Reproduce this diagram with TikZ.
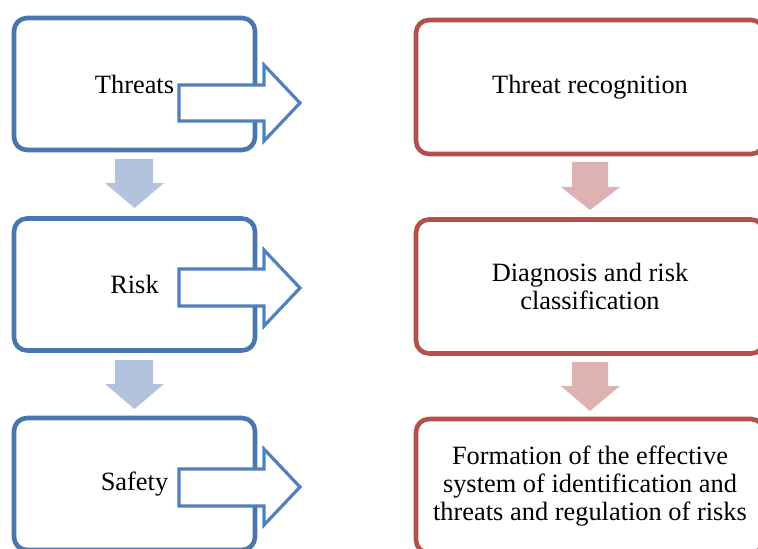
\documentclass[tikz,border=0pt]{standalone}
\usepackage{fontspec}
\setmainfont{Liberation Serif}
\definecolor{boxblue}{RGB}{74,118,176}
\definecolor{arrblue}{RGB}{79,129,189}
\definecolor{downblue}{RGB}{179,195,222}
\definecolor{boxred}{RGB}{178,80,77}
\definecolor{downred}{RGB}{222,178,178}
\tikzset{
  txt/.style={font=\fontsize{13.2}{13.8}\selectfont},
  lbox/.style={draw=boxblue,line width=2.3pt,rounded corners=6.5pt,fill=white,minimum width=120.5pt,minimum height=66pt,txt},
  rbox/.style={draw=boxred,line width=2.3pt,rounded corners=6.5pt,fill=white,minimum width=174pt,minimum height=67pt,align=center,txt},
  hollow/.style={draw=arrblue,line width=1.6pt,fill=white,line join=miter},
  downl/.style={fill=downblue},
  downr/.style={fill=downred},
}
\begin{document}
\begin{tikzpicture}[x=0.5pt,y=-0.5pt]
  \useasboundingbox (0,0) rectangle (758,549);
  \clip (0,0) rectangle (758,549);
  % left column
  \node[lbox] (thr) at (134.5,84) {Threats};
  \node[lbox] (rsk) at (134.5,284.5) {Risk};
  \node[lbox] (saf) at (134.5,484) {Safety};
  \draw[hollow] (179,85) -- (264,85) -- (264,65) -- (300,103) -- (264,141) -- (264,121) -- (179,121) -- cycle;
  \draw[hollow] (179,269) -- (264,269) -- (264,250) -- (300,288) -- (264,326) -- (264,306) -- (179,306) -- cycle;
  \draw[hollow] (179,469) -- (264,469) -- (264,449) -- (300,487) -- (264,525) -- (264,506) -- (179,506) -- cycle;
  \fill[downl] (115,159) -- (153,159) -- (153,183) -- (164,183) -- (134.5,208) -- (105,183) -- (115,183) -- cycle;
  \fill[downl] (115,360) -- (153,360) -- (153,384) -- (164,384) -- (134.5,409) -- (105,384) -- (115,384) -- cycle;
  % right column
  \node[rbox] (rec) at (590,87) {Threat recognition};
  \node[rbox] (dia) at (590,286.5) {Diagnosis and risk\\classification};
  \node[rbox] (frm) at (590,486) {Formation of the effective\\system of identification and\\threats and regulation of risks};
  \fill[downr] (572,162) -- (608,162) -- (608,187) -- (620,187) -- (590,210) -- (561,187) -- (572,187) -- cycle;
  \fill[downr] (572,362) -- (608,362) -- (608,386) -- (620,386) -- (590,411) -- (561,386) -- (572,386) -- cycle;
\end{tikzpicture}
\end{document}
